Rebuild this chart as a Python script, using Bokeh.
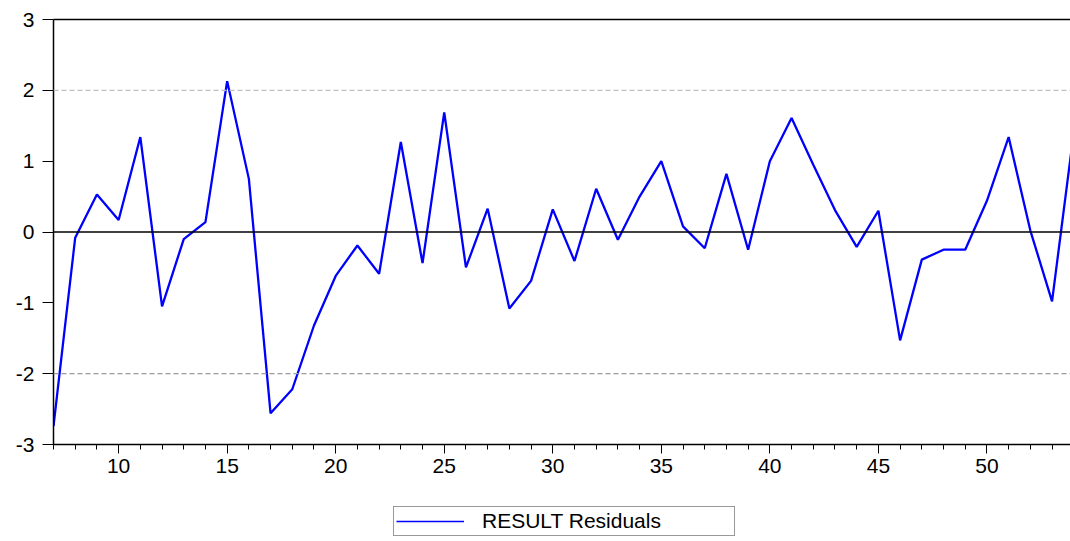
from bokeh.plotting import figure
from bokeh.layouts import column
from bokeh.models import (Range1d, SingleIntervalTicker, FixedTicker, LinearAxis,
                          Span, Legend, LegendItem, ColumnDataSource)
from bokeh.embed import file_html
from bokeh.resources import INLINE

# ---- data ----
obs = list(range(7, 55))
residuals = [-2.74, -0.08, 0.53, 0.17, 1.34, -1.05, -0.10, 0.14, 2.13, 0.75,
             -2.56, -2.22, -1.32, -0.62, -0.19, -0.59, 1.27, -0.44, 1.69, -0.50,
             0.33, -1.08, -0.69, 0.32, -0.41, 0.61, -0.11, 0.50, 1.00, 0.08,
             -0.23, 0.82, -0.25, 1.00, 1.61, 0.95, 0.31, -0.21, 0.30, -1.53,
             -0.39, -0.25, -0.25, 0.44, 1.34, 0.02, -0.98, 1.41]
y_ticks = [-3, -2, -1, 0, 1, 2, 3]
series_label = "RESULT Residuals"

FONT = "Liberation Sans"
LINE_COLOR = "#0000ff"

p = figure(width=1070, height=484, output_backend="svg", toolbar_location=None,
           x_range=Range1d(7, 53.85), y_range=Range1d(-3, 3),
           min_border_left=53, min_border_right=0, min_border_top=19,
           min_border_bottom=40)
p.outline_line_color = None
p.background_fill_color = "white"
p.border_fill_color = "white"
p.xgrid.visible = False
p.ygrid.visible = False

# x axis
xa = p.xaxis[0]
xa.ticker = SingleIntervalTicker(interval=5, num_minor_ticks=5)
xa.axis_line_color = "black"
xa.axis_line_width = 1.5
xa.major_tick_line_color = "black"
xa.minor_tick_line_color = "black"
xa.major_tick_in = 0
xa.major_tick_out = 9
xa.minor_tick_in = 0
xa.minor_tick_out = 5
xa.major_label_standoff = 5
xa.major_label_text_font = FONT
xa.major_label_text_font_size = "21px"
xa.major_label_text_color = "black"

# y axis
ya = p.yaxis[0]
ya.ticker = FixedTicker(ticks=y_ticks)
ya.major_label_overrides = {t: str(t) for t in y_ticks}
ya.axis_line_color = "black"
ya.axis_line_width = 1.5
ya.major_tick_line_color = "black"
ya.minor_tick_line_color = None
ya.major_tick_in = 0
ya.major_tick_out = 11
ya.major_label_standoff = 8
ya.major_label_text_font = FONT
ya.major_label_text_font_size = "21px"
ya.major_label_text_color = "black"

# top frame line
top = LinearAxis(ticker=FixedTicker(ticks=[]), axis_line_color="black",
                 axis_line_width=1.5, major_label_text_font_size="0px",
                 major_tick_out=0, minor_tick_out=0)
p.add_layout(top, "above")

# reference lines
p.add_layout(Span(location=2, dimension="width", line_color="#c0c0c0",
                  line_width=1.2, line_dash="5 3"))
p.add_layout(Span(location=-2, dimension="width", line_color="#9a9a9a",
                  line_width=1.2, line_dash="5 3"))
p.add_layout(Span(location=0, dimension="width", line_color="black",
                  line_width=1.3))

src = ColumnDataSource(dict(x=obs, y=residuals))
p.line("x", "y", source=src, line_color=LINE_COLOR, line_width=2.3)

# ---- legend strip below the chart ----
leg = figure(width=1070, height=57, output_backend="svg", toolbar_location=None,
             x_range=Range1d(0, 1), y_range=Range1d(0, 1),
             x_axis_location=None, y_axis_location=None,
             min_border=0, min_border_left=0, min_border_right=0,
             min_border_top=0, min_border_bottom=0)
leg.outline_line_color = None
leg.xgrid.visible = False
leg.ygrid.visible = False
# same series, outside this strip's ranges: only its legend entry shows
proxy = leg.line("x", "y", source=src, line_color=LINE_COLOR, line_width=1.5)

legend = Legend(items=[LegendItem(label=series_label, renderers=[proxy])],
                location=(340, 5), margin=0, padding=2,
                glyph_width=68, glyph_height=20, label_height=20,
                label_standoff=18, label_width=250,
                label_text_font=FONT, label_text_font_size="21px",
                label_text_color="black",
                border_line_color="#333333", border_line_width=1,
                background_fill_color="white", background_fill_alpha=1.0)
leg.add_layout(legend, "center")

layout = column(p, leg, spacing=0)
open("out.html", "w").write(file_html(layout, INLINE))
